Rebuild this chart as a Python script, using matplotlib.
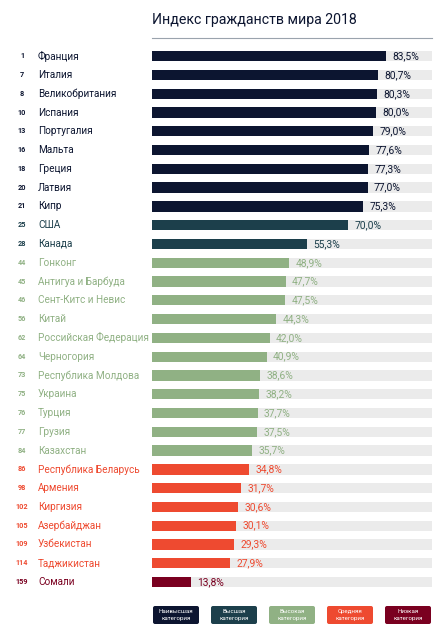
import matplotlib
matplotlib.use('Agg')
import matplotlib.pyplot as plt
from matplotlib.patches import FancyBboxPatch

plt.rcParams['font.family'] = ['Roboto', 'DejaVu Sans']

ranks = [1, 7, 8, 10, 13, 16, 18, 20, 21, 25, 28, 44, 45, 46, 56, 62, 64,
         73, 75, 76, 77, 84, 86, 98, 102, 105, 109, 114, 159]
countries = ['Франция', 'Италия', 'Великобритания', 'Испания', 'Португалия',
             'Мальта', 'Греция', 'Латвия', 'Кипр', 'США', 'Канада', 'Гонконг',
             'Антигуа и Барбуда', 'Сент-Китс и Невис', 'Китай',
             'Российская Федерация', 'Черногория', 'Республика Молдова',
             'Украина', 'Турция', 'Грузия', 'Казахстан', 'Республика Беларусь',
             'Армения', 'Киргизия', 'Азербайджан', 'Узбекистан', 'Таджикистан',
             'Сомали']
values = [83.5, 80.7, 80.3, 80.0, 79.0, 77.6, 77.3, 77.0, 75.3, 70.0, 55.3,
          48.9, 47.7, 47.5, 44.3, 42.0, 40.9, 38.6, 38.2, 37.7, 37.5, 35.7,
          34.8, 31.7, 30.6, 30.1, 29.3, 27.9, 13.8]
category = [0] * 9 + [1] * 2 + [2] * 11 + [3] * 6 + [4]
cat_labels = ['Наивысшая\nкатегория', 'Высшая\nкатегория', 'Высокая\nкатегория',
              'Средняя\nкатегория', 'Низкая\nкатегория']

cat_colors = ['#0c1530', '#1c3f4b', '#90b184', '#ee4a30', '#7a0020']
track = '#ebebeb'

fig = plt.figure(figsize=(4.48, 6.4), dpi=100)
fig.patch.set_facecolor('white')

ax = fig.add_axes([152 / 448, 0.0759, 280 / 448, 0.851])
n = len(values)
ypos = list(range(n))
bar_h = 0.55

ax.barh(ypos, [100] * n, height=bar_h, color=track, zorder=1)
ax.barh(ypos, values, height=bar_h, color=[cat_colors[c] for c in category], zorder=2)

for i, (r, c, v, k) in enumerate(zip(ranks, countries, values, category)):
    col = cat_colors[k]
    ax.text(v + 2.3, i, f'{v:.1f}%'.replace('.', ','), va='center', ha='left',
            fontsize=7.4, color=col, zorder=3)
    ax.text(-40.7, i, c, va='center', ha='left', fontsize=7.2, color=col,
            clip_on=False)
    ax.text(-46.4, i, str(r), va='center', ha='center', fontsize=5.2,
            fontweight='bold', color=col, clip_on=False)

ax.set_xlim(0, 100)
ax.set_ylim(n - 0.5, -0.5)
ax.axis('off')

# title and rule
fig.text(152 / 448, 1 - 20 / 640, 'Индекс гражданств мира 2018', fontsize=10.2,
         color='#0c1530', ha='left', va='center')
fig.add_artist(plt.Line2D([152 / 448, 432 / 448], [1 - 38 / 640, 1 - 38 / 640],
                          color='#9aa3ad', lw=0.8))

# category legend
lax = fig.add_axes([152 / 448, 1 - 625 / 640, 280 / 448, 20 / 640])
lax.set_xlim(0, 280)
lax.set_ylim(0, 20)
lax.axis('off')
for j, (lab, col) in enumerate(zip(cat_labels, cat_colors)):
    x0 = j * 58
    box = FancyBboxPatch((x0 + 1, 1), 46, 18, boxstyle='round,pad=0,rounding_size=2',
                         fc=col, ec='none')
    lax.add_patch(box)
    lax.text(x0 + 24, 10, lab, ha='center', va='center', fontsize=4.4,
             color='white', linespacing=1.3)

fig.savefig('out.png', dpi=100)
